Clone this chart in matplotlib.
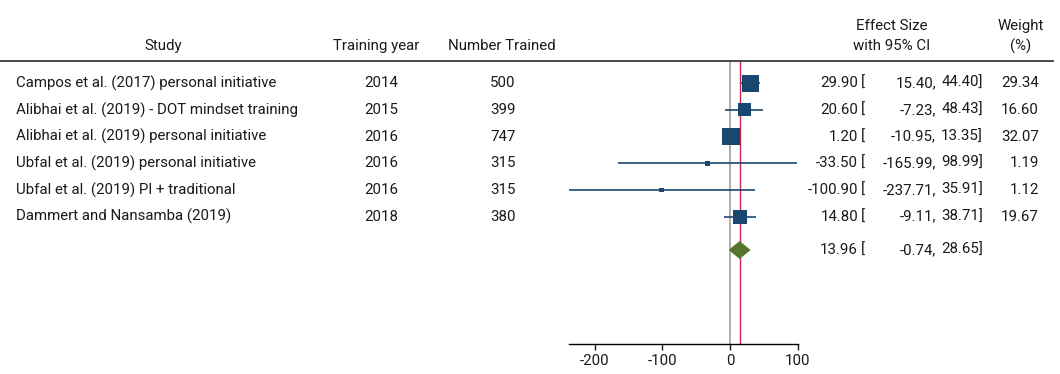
import matplotlib
matplotlib.use("Agg")
import matplotlib.pyplot as plt
import matplotlib.transforms as mtransforms
from matplotlib.lines import Line2D
from matplotlib.patches import Polygon

plt.rcParams['font.family'] = ['Roboto', 'DejaVu Sans']
plt.rcParams['axes.unicode_minus'] = False

# data
studies = ["Campos et al. (2017) personal initiative",
           "Alibhai et al. (2019) - DOT mindset training",
           "Alibhai et al. (2019) personal initiative",
           "Ubfal et al. (2019) personal initiative",
           "Ubfal et al. (2019) PI + traditional",
           "Dammert and Nansamba (2019)"]
years = [2014, 2015, 2016, 2016, 2016, 2018]
n_trained = [500, 399, 747, 315, 315, 380]
es = [29.90, 20.60, 1.20, -33.50, -100.90, 14.80]
ci_lo = [15.40, -7.23, -10.95, -165.99, -237.71, -9.11]
ci_hi = [44.40, 48.43, 13.35, 98.99, 35.91, 38.71]
weights = [29.34, 16.60, 32.07, 1.19, 1.12, 19.67]
pooled_es = 13.96
pooled_lo = -0.74
pooled_hi = 28.65
xticks = [-200, -100, 0, 100]

W, H = 1060, 374
navy = "#1a476f"
green = "#55752f"
txt = "#1a1a1a"
fs = 10.8

fig = plt.figure(figsize=(W / 100, H / 100), dpi=100)

# forest panel: pixels 569..798 horizontally, 61..344 vertically
ax = fig.add_axes([569 / W, 1 - 344 / H, (798 - 569) / W, (344 - 61) / H])
rows = list(range(1, len(studies) + 1))
pooled_row = 7.25
ax.set_xlim(min(ci_lo), 100)
ax.set_ylim(10.775, 0.164)

ax.axvline(0, color="#a8a8a8", lw=1.3, zorder=1)
ax.axvline(pooled_es, color="#c8284a", lw=1.0, zorder=1)

ax.hlines(rows, ci_lo, ci_hi, color=navy, lw=1.2, zorder=2)
# square area grows with weight (plus a small floor like Stata's)
ax.scatter(es, rows, s=[4.84 * w + 7.2 for w in weights], marker="s",
           color=navy, linewidths=0, zorder=3)

dh = 0.3
diamond = Polygon([[pooled_lo, pooled_row], [pooled_es, pooled_row - dh],
                   [pooled_hi, pooled_row], [pooled_es, pooled_row + dh]],
                  closed=True, color=green, zorder=3)
ax.add_patch(diamond)

for side in ["top", "right", "left"]:
    ax.spines[side].set_visible(False)
ax.spines["bottom"].set_linewidth(1.0)
ax.set_yticks([])
ax.set_xticks(xticks)
ax.tick_params(axis="x", length=4, width=1.0, labelsize=fs, pad=3, colors=txt)
ax.patch.set_alpha(0)

# text columns: x in figure pixels, y in row units
tr = mtransforms.blended_transform_factory(fig.transFigure, ax.transData)


def put(px, y, s, ha):
    fig.text(px / W, y, s, ha=ha, va="center", fontsize=fs, color=txt,
             transform=tr)


for i, r in enumerate(rows):
    put(16, r, studies[i], "left")
    put(381, r, str(years[i]), "center")
    put(503, r, str(n_trained[i]), "center")
    put(858, r, f"{es[i]:.2f}", "right")
    put(861, r, "[", "left")
    put(936, r, f"{ci_lo[i]:.2f},", "right")
    put(983, r, f"{ci_hi[i]:.2f}]", "right")
    put(1039, r, f"{weights[i]:.2f}", "right")

put(858, pooled_row, f"{pooled_es:.2f}", "right")
put(861, pooled_row, "[", "left")
put(936, pooled_row, f"{pooled_lo:.2f},", "right")
put(983, pooled_row, f"{pooled_hi:.2f}]", "right")

# header
def head(px, py, s, ha="center"):
    fig.text(px / W, 1 - py / H, s, ha=ha, va="center", fontsize=fs,
             color=txt)


head(163, 46, "Study")
head(376, 46, "Training year")
head(502, 46, "Number Trained")
head(892, 26, "Effect Size")
head(892, 46, "with 95% CI")
head(1021, 26, "Weight")
head(1021, 46, "(%)")

fig.add_artist(Line2D([0, 1053 / W], [1 - 61 / H, 1 - 61 / H],
                      transform=fig.transFigure, color="#3a3a3a", lw=1.3))

fig.savefig("out.png", dpi=100)
